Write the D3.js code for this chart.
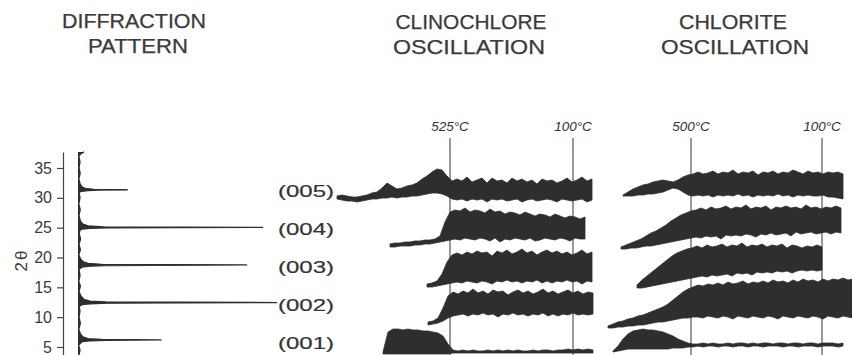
<!DOCTYPE html>
<html><head><meta charset="utf-8">
<script src="https://cdn.jsdelivr.net/npm/d3@7"></script>
<style>body{margin:0;background:#fff}svg{display:block}</style>
</head><body>
<svg id="c" width="852" height="355"></svg>
<script>
// ---------- DATA ----------
const twoThetaTicks = [5,10,15,20,25,30,35];
const patternTheta = [3.7,4.5,5.3,5.9,6.05,6.13,6.2,6.27,6.4,6.7,7.2,8,9,10,11,11.8,12.1,12.25,12.35,12.45,12.55,12.7,13,13.5,14.3,15.2,16,17,18,18.4,18.55,18.65,18.75,18.85,19,19.3,19.8,20.5,21.3,22.2,23.1,24,24.6,24.75,24.9,24.98,25.05,25.13,25.3,25.6,26.1,27,28,29,30,30.9,31.1,31.22,31.3,31.35,31.42,31.6,31.9,32.4,33.2,34.1,35,36,37,37.4,37.7];
const patternIntensity = [0.5,1,0.3,2,6,14,42,12,5,2.5,1.2,0.4,1.2,0.5,1,0.6,2,6,15,100,14,6,3,1.5,0.5,1.2,0.4,1,0.5,2,6,14,85,12,5,2.5,1.2,0.4,1.2,0.5,1.3,0.6,1,2,6,15,93,13,5,2.5,1.2,0.5,1.1,0.4,1,0.5,2,5,10,25,8,3.5,1.8,1,0.4,1.1,0.5,1,0.4,1.5,3];

const reflections = ["(005)","(004)","(003)","(002)","(001)"];
const sampleStep = 5;

// Clinochlore oscillation records (time units), upper / lower envelope heights
const clinoTempLabels = ["525°C","100°C"];
const clinoTempTimes = [115,238];
const clinoStarts = [2,55,92,93,48];
const clino005Hi = [159,160,159,158,158,159,160,162,163,167,172,169,166,167,169,170,172,176,179,183,186,185,179,174,176,174,178,173,175,177,172,177,174,175,172,177,174,176,173,175,171,176,174,175,172,174,177,173,175,178,174,176];
const clino005Lo = [156,155,154,154,153,154,155,156,156,157,157,158,157,158,158,159,159,160,161,162,162,161,159,156,155,156,154,156,155,156,153,156,155,156,154,155,156,153,155,156,154,155,156,155,153,156,155,154,155,156,153,155];
const clino004Hi = [111,112,112,113,113,114,114,115,115,116,119,133,143,145,144,147,143,145,144,142,146,143,144,141,143,142,140,143,141,139,141,140,138,141,139,137,139,138,136,138];
const clino004Lo = [108,108,109,109,109,110,110,111,111,112,113,114,115,116,115,117,116,115,117,116,114,117,113,116,115,117,116,115,117,114,115,117,116,115,117,116,114,117,116,116];
const clino003Hi = [71,72,74,81,93,100,102,100,103,101,104,102,103,99,104,102,105,101,103,106,102,104,100,103,105,102,104,101,103,100,102,105,101,103];
const clino003Lo = [68,68,69,70,71,72,73,72,74,73,72,74,73,71,74,73,75,73,74,72,74,73,75,72,74,72,74,73,75,73,74,71,74,73];
const clino002Hi = [33,34,37,47,59,63,61,64,62,66,62,64,61,65,63,64,60,63,65,62,64,61,63,66,62,64,61,63,65,62,64,61,63,62];
const clino002Lo = [30,31,32,34,37,39,40,41,39,41,40,42,40,41,38,41,40,42,40,41,39,41,40,42,39,41,39,41,40,42,40,41,40,41];
const clino001Hi = [3,23,26,26,25,26,25,25,24,24,23,22,19,11,5,4,5,4,5,4,4,5,4,5,4,5,4,5,4,4,5,4,5,5,4,5,5,6,5,6,5,6,5];
const clino001Lo = [1,1,1,1,1,1,1,1,1,1,1,1,1,1,2,2,2,2,2,2,2,2,2,2,2,2,2,2,2,2,2,2,2,2,2,2,2,2,2,2,2,2,2];

// Chlorite oscillation records
const chlorTempLabels = ["500°C","100°C"];
const chlorTempTimes = [91,222];
const chlorStarts = [23,21,37,8,13];
const chlor005Hi = [160,163,166,168,170,171,173,174,175,174,173,175,178,180,181,183,181,182,184,181,183,182,185,181,183,182,184,180,183,182,184,181,183,182,185,183,181,184,182,183,181,183,182,183,181];
const chlor005Lo = [159,159,159,160,160,161,161,162,163,165,167,166,163,160,159,160,159,160,158,160,159,160,159,161,159,160,158,160,159,160,159,161,159,160,158,160,159,160,159,159,160,158,158,157,156];
const chlor004Hi = [108,110,112,114,116,119,122,124,127,130,134,137,140,142,144,145,147,145,148,146,147,149,146,148,147,150,146,148,147,149,145,148,147,149,147,148,146,150,147,148,146,148,147,149,147];
const chlor004Lo = [106,106,107,107,108,109,109,110,111,112,113,114,115,116,117,118,117,119,118,119,116,120,119,120,119,121,120,118,121,120,122,120,121,122,119,123,121,122,123,121,122,123,121,123,122];
const chlor003Hi = [70,75,79,83,87,91,95,99,102,104,106,107,109,107,110,108,109,111,108,110,109,112,108,110,109,111,108,110,109,111,107,110,109,107,109,108,110,108];
const chlor003Lo = [67,67,68,69,70,71,72,73,74,75,76,77,78,79,78,80,79,80,81,79,82,81,82,80,83,82,83,82,84,83,84,82,84,85,84,85,84,85];
const chlor002Hi = [29,31,33,34,36,37,39,40,42,44,46,48,51,55,59,63,66,68,70,69,71,70,72,70,73,71,72,74,71,73,72,74,72,75,73,74,72,75,73,76,74,75,73,76,74,76,75,77,75,76];
const chlor002Lo = [27,27,28,28,29,29,30,30,31,32,33,33,34,35,36,37,37,38,38,37,39,38,37,39,38,36,39,38,37,39,38,37,39,38,36,39,38,37,39,38,37,39,38,36,39,38,37,39,38,37];
const chlor001Hi = [4,9,16,21,24,25,26,25,25,24,23,21,19,16,14,12,11,11,12,11,12,11,11,12,11,12,12,11,12,11,12,12,11,12,12,11,12,12,11,12,12,11,12,12,12,11,12];
const chlor001Lo = [3,4,5,6,6,6,6,6,6,6,6,6,7,7,7,8,8,9,8,9,9,8,9,9,8,9,9,8,9,9,8,9,9,9,8,9,9,8,9,9,9,8,9,9,9,8,9];

// ---------- DRAW ----------
const ink = "#2e2e2e";
const font = "'Liberation Sans', Arial, sans-serif";
const svg = d3.select("#c");

// titles
function title(txt, cx, y, w) {
  svg.append("text").attr("x", cx - w/2).attr("y", y).attr("textLength", w)
    .attr("lengthAdjust", "spacingAndGlyphs")
    .attr("font-family", font).attr("font-size", 20).attr("fill", "#3a3a3a")
    .attr("stroke", "#3a3a3a").attr("stroke-width", 0.25).text(txt);
}
title("DIFFRACTION", 134, 28, 144);
title("PATTERN", 138, 53, 100);
title("CLINOCHLORE", 471, 29, 151);
title("OSCILLATION", 469, 54, 152);
title("CHLORITE", 733, 29, 108);
title("OSCILLATION", 735, 54, 148);

// diffraction pattern
const theta = d3.scaleLinear().domain([3.66, 37.68]).range([355, 152]);
const inten = d3.scaleLinear().domain([0, 100]).range([78, 277]);
const axisG = svg.append("g").attr("transform", "translate(63,0)")
  .call(d3.axisLeft(theta).tickValues(twoThetaTicks).tickSize(6).tickSizeOuter(0).tickPadding(5));
axisG.selectAll("path,line").attr("stroke", "#444").attr("stroke-width", 1.2);
axisG.selectAll("text").attr("font-family", font).attr("font-size", 16).attr("fill", "#3a3a3a");

svg.append("text").attr("transform", "translate(21,260) rotate(-90)")
  .attr("text-anchor", "middle").attr("dominant-baseline", "central")
  .attr("font-family", font).attr("font-size", 17).attr("fill", "#3a3a3a")
  .attr("letter-spacing", 2).text("2θ");

const pattern = patternTheta.map((t, i) => ({t, v: patternIntensity[i]}));
svg.append("path").datum(pattern)
  .attr("d", d3.area().y(d => theta(d.t)).x0(inten(0)).x1(d => inten(d.v)))
  .attr("fill", ink);
svg.append("path").datum(pattern)
  .attr("d", d3.line().y(d => theta(d.t)).x(d => inten(d.v)))
  .attr("fill", "none").attr("stroke", ink).attr("stroke-width", 1.3);

// reflection labels
const rowY = d3.scalePoint().domain(reflections).range([191, 343]);
svg.selectAll("text.refl").data(reflections).join("text").attr("class", "refl")
  .attr("x", 278).attr("y", d => rowY(d)).attr("dominant-baseline", "central")
  .attr("textLength", 56).attr("lengthAdjust", "spacingAndGlyphs")
  .attr("font-family", font).attr("font-size", 17).attr("fill", "#333")
  .attr("stroke", "#333").attr("stroke-width", 0.2).text(d => d);

// oscillation panels
const ySig = d3.scaleLinear().domain([0, 220]).range([355, 135]);
function panel(xScale, tempLabels, tempTimes, starts, his, los) {
  const g = svg.append("g");
  tempTimes.forEach((t, i) => {
    g.append("line").attr("x1", xScale(t)).attr("x2", xScale(t))
      .attr("y1", ySig(217)).attr("y2", ySig(0))
      .attr("stroke", "#555").attr("stroke-width", 1.2);
    g.append("text").attr("x", xScale(t)).attr("y", ySig(224))
      .attr("text-anchor", "middle").attr("font-family", font)
      .attr("font-style", "italic").attr("font-size", 13.5).attr("fill", "#333")
      .text(tempLabels[i]);
  });
  his.forEach((hi, k) => {
    const pts = hi.map((h, i) => ({t: starts[k] + i * sampleStep, h, l: los[k][i]}));
    g.append("path").datum(pts)
      .attr("d", d3.area().x(d => xScale(d.t)).y0(d => ySig(d.l)).y1(d => ySig(d.h)))
      .attr("fill", ink).attr("stroke", ink).attr("stroke-width", 0.8);
  });
}
const xClino = d3.scaleLinear().domain([0, 260]).range([335, 595]);
const xChlor = d3.scaleLinear().domain([0, 252]).range([600, 852]);
panel(xClino, clinoTempLabels, clinoTempTimes, clinoStarts,
  [clino005Hi, clino004Hi, clino003Hi, clino002Hi, clino001Hi],
  [clino005Lo, clino004Lo, clino003Lo, clino002Lo, clino001Lo]);
panel(xChlor, chlorTempLabels, chlorTempTimes, chlorStarts,
  [chlor005Hi, chlor004Hi, chlor003Hi, chlor002Hi, chlor001Hi],
  [chlor005Lo, chlor004Lo, chlor003Lo, chlor002Lo, chlor001Lo]);
</script>
</body></html>
